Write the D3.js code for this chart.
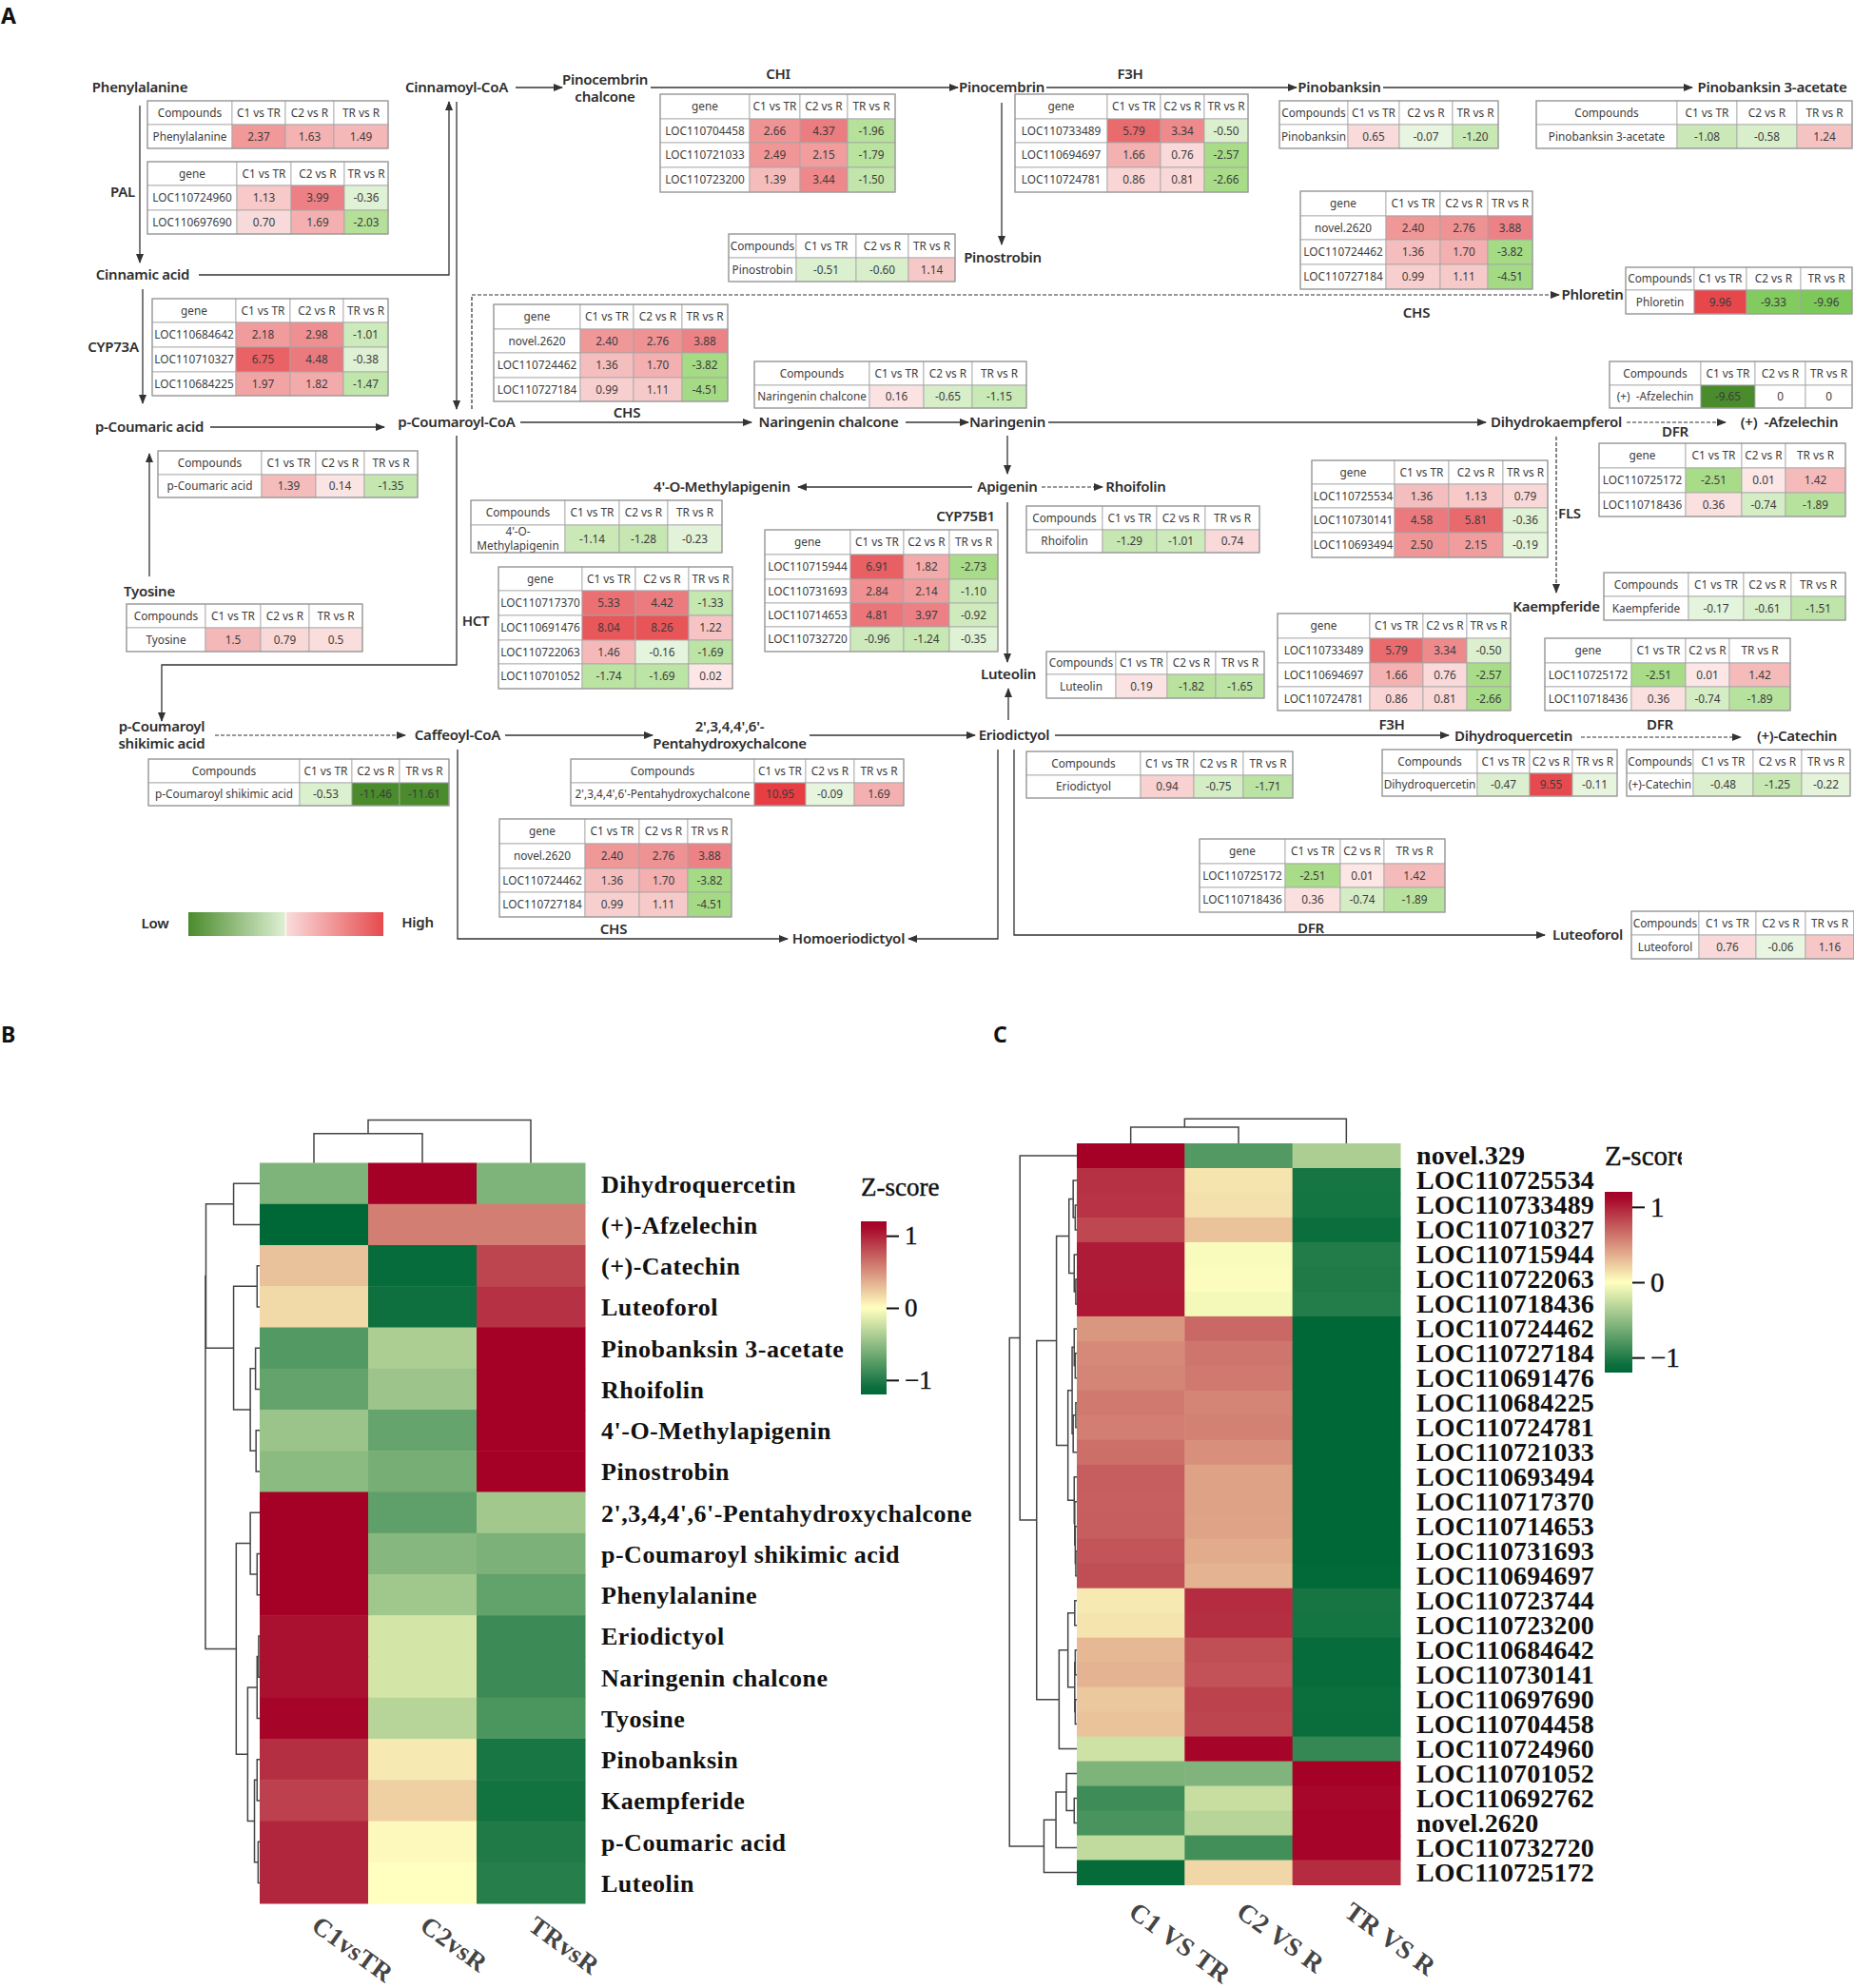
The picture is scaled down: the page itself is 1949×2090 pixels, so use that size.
<!DOCTYPE html>
<html>
<head>
<meta charset="utf-8">
<script src="https://cdn.jsdelivr.net/npm/d3@7"></script>
<style>
  body { margin: 0; background: #fff; }
  svg { display: block; }
</style>
</head>
<body>
<svg id="chart" width="1949" height="2090"></svg>
<script>
// ---- panel A values: first entry of a row is its label, the rest are the three comparisons ----
const compareCols = ["C1 vs TR", "C2 vs R", "TR vs R"];

const phenylalanineRows = [["Phenylalanine", "2.37", "1.63", "1.49"]];
const palRows = [["LOC110724960", "1.13", "3.99", "-0.36"], ["LOC110697690", "0.70", "1.69", "-2.03"]];
const cyp73aRows = [["LOC110684642", "2.18", "2.98", "-1.01"], ["LOC110710327", "6.75", "4.48", "-0.38"], ["LOC110684225", "1.97", "1.82", "-1.47"]];
const chiRows = [["LOC110704458", "2.66", "4.37", "-1.96"], ["LOC110721033", "2.49", "2.15", "-1.79"], ["LOC110723200", "1.39", "3.44", "-1.50"]];
const pinostrobinRows = [["Pinostrobin", "-0.51", "-0.60", "1.14"]];
const chsRows = [["novel.2620", "2.40", "2.76", "3.88"], ["LOC110724462", "1.36", "1.70", "-3.82"], ["LOC110727184", "0.99", "1.11", "-4.51"]];
const naringeninChalconeRows = [["Naringenin chalcone", "0.16", "-0.65", "-1.15"]];
const coumaricRows = [["p-Coumaric acid", "1.39", "0.14", "-1.35"]];
const methylapigeninRows = [["4'-O-\nMethylapigenin", "-1.14", "-1.28", "-0.23"]];
const hctRows = [["LOC110717370", "5.33", "4.42", "-1.33"], ["LOC110691476", "8.04", "8.26", "1.22"], ["LOC110722063", "1.46", "-0.16", "-1.69"], ["LOC110701052", "-1.74", "-1.69", "0.02"]];
const tyosineRows = [["Tyosine", "1.5", "0.79", "0.5"]];
const cyp75b1Rows = [["LOC110715944", "6.91", "1.82", "-2.73"], ["LOC110731693", "2.84", "2.14", "-1.10"], ["LOC110714653", "4.81", "3.97", "-0.92"], ["LOC110732720", "-0.96", "-1.24", "-0.35"]];
const shikimicRows = [["p-Coumaroyl shikimic acid", "-0.53", "-11.46", "-11.61"]];
const pentaRows = [["2',3,4,4',6'-Pentahydroxychalcone", "10.95", "-0.09", "1.69"]];
const f3hRows = [["LOC110733489", "5.79", "3.34", "-0.50"], ["LOC110694697", "1.66", "0.76", "-2.57"], ["LOC110724781", "0.86", "0.81", "-2.66"]];
const pinobanksinRows = [["Pinobanksin", "0.65", "-0.07", "-1.20"]];
const pinobanksinAcetateRows = [["Pinobanksin 3-acetate", "-1.08", "-0.58", "1.24"]];
const phloretinRows = [["Phloretin", "9.96", "-9.33", "-9.96"]];
const afzelechinRows = [["(+)\u00a0\u00a0-Afzelechin", "-9.65", "0", "0"]];
const dfrRows = [["LOC110725172", "-2.51", "0.01", "1.42"], ["LOC110718436", "0.36", "-0.74", "-1.89"]];
const flsRows = [["LOC110725534", "1.36", "1.13", "0.79"], ["LOC110730141", "4.58", "5.81", "-0.36"], ["LOC110693494", "2.50", "2.15", "-0.19"]];
const rhoifolinRows = [["Rhoifolin", "-1.29", "-1.01", "0.74"]];
const kaempferideRows = [["Kaempferide", "-0.17", "-0.61", "-1.51"]];
const luteolinRows = [["Luteolin", "0.19", "-1.82", "-1.65"]];
const eriodictyolRows = [["Eriodictyol", "0.94", "-0.75", "-1.71"]];
const dihydroquercetinRows = [["Dihydroquercetin", "-0.47", "9.55", "-0.11"]];
const catechinRows = [["(+)-Catechin", "-0.48", "-1.25", "-0.22"]];
const luteoforolRows = [["Luteoforol", "0.76", "-0.06", "1.16"]];

// ---- panel B ----
const compoundNames = ["Dihydroquercetin", "(+)-Afzelechin", "(+)-Catechin", "Luteoforol", "Pinobanksin 3-acetate", "Rhoifolin", "4'-O-Methylapigenin", "Pinostrobin", "2',3,4,4',6'-Pentahydroxychalcone", "p-Coumaroyl shikimic acid", "Phenylalanine", "Eriodictyol", "Naringenin chalcone", "Tyosine", "Pinobanksin", "Kaempferide", "p-Coumaric acid", "Luteolin"];
const compoundCols = ["C1vsTR", "C2vsR", "TRvsR"];
const compoundZ = [
  [-0.58, 1.15, -0.58], [-1.15, 0.58, 0.58], [0.28, -1.12, 0.84], [0.17, -1.09, 0.93], [-0.78, -0.37, 1.15], [-0.7, -0.44, 1.15],
  [-0.45, -0.69, 1.15], [-0.52, -0.62, 1.15], [1.15, -0.72, -0.42], [1.15, -0.55, -0.59], [1.15, -0.43, -0.71], [1.08, -0.2, -0.88],
  [1.08, -0.2, -0.88], [1.13, -0.32, -0.81], [0.94, 0.1, -1.04], [0.86, 0.21, -1.07], [0.98, 0.03, -1.01], [0.98, 0, -0.98]
];
// dendrograms are nested [height, left, right], a number is a row or column index
const compoundRowTree = [104, [103, [50, 0, 1], [50, [5, 2, 3], [18, [8, 4, 5], [7, 6, 7]]]],
  [45, [18, 8, [5, 9, 10]], [23, [5, [2, 11, 12], 13], [10, [5, 14, 15], [3, 16, 17]]]]];
const compoundColTree = [60, [41, 0, 1], 2];

// ---- panel C ----
const geneNames = ["novel.329", "LOC110725534", "LOC110733489", "LOC110710327", "LOC110715944", "LOC110722063", "LOC110718436", "LOC110724462", "LOC110727184", "LOC110691476", "LOC110684225", "LOC110724781", "LOC110721033", "LOC110693494", "LOC110717370", "LOC110714653", "LOC110731693", "LOC110694697", "LOC110723744", "LOC110723200", "LOC110684642", "LOC110730141", "LOC110697690", "LOC110704458", "LOC110724960", "LOC110701052", "LOC110692762", "novel.2620", "LOC110732720", "LOC110725172"];
const geneCols = ["C1 VS TR", "C2 VS R", "TR VS R"];
const geneZ = [
  [1.15, -0.78, -0.37], [0.93, 0.12, -1.05], [0.92, 0.14, -1.06], [0.83, 0.27, -1.1], [1.03, -0.03, -1], [1.03, -0.02, -1.01],
  [1.04, -0.05, -0.99], [0.47, 0.68, -1.15], [0.53, 0.62, -1.15], [0.55, 0.6, -1.15], [0.6, 0.55, -1.15], [0.58, 0.57, -1.15],
  [0.65, 0.5, -1.15], [0.73, 0.42, -1.15], [0.72, 0.42, -1.15], [0.73, 0.41, -1.15], [0.77, 0.38, -1.15], [0.8, 0.34, -1.14],
  [0.1, 0.95, -1.05], [0.12, 0.94, -1.06], [0.32, 0.8, -1.12], [0.34, 0.78, -1.12], [0.25, 0.85, -1.1], [0.27, 0.84, -1.11],
  [-0.22, 1.13, -0.91], [-0.58, -0.57, 1.15], [-0.87, -0.25, 1.12], [-0.82, -0.32, 1.13], [-0.28, -0.85, 1.13], [-1.13, 0.18, 0.95]
];
const geneRowTree = [129, [109, 0, [77, [39, [15, [7, 1, [3, 2, 3]], [5, 4, [2, 5, 6]]],
    [17, [9, [5, 7, [3, 8, 9]], [7, [2, 10, 11], 12]], [5, 13, [4, 14, [3, 15, [2, 16, 17]]]]]],
    [34, [17, [4, 18, 19], [4, [3, 20, 21], [3, 22, 23]]], 24]]],
  [63, [40, [20, 25, [5, 26, 27]], 28], 29]];
const geneColTree = [62, [41, 0, 1], 2];

const zTicks = [-1, 0, 1];

// ---- layout of panel A, real pixels ----
const tableLayout = [
  ["Compounds", phenylalanineRows, [155, 244, 300, 351, 408], [106, 131, 156]],
  ["gene", palRows, [155, 249, 306, 362, 408], [170, 195, 221, 246]],
  ["gene", cyp73aRows, [160, 248, 305, 361, 408], [314, 339, 365, 391, 416]],
  ["gene", chiRows, [694, 788, 841, 891, 941], [99, 125, 150, 176, 202]],
  ["Compounds", pinostrobinRows, [766, 837, 900, 955, 1004], [246, 271, 296]],
  ["gene", chsRows, [519, 610, 666, 717, 765], [320, 346, 371, 397, 422]],
  ["Compounds", naringeninChalconeRows, [793, 914, 971, 1022, 1079], [380, 405, 429]],
  ["Compounds", coumaricRows, [166, 275, 332, 383, 439], [474, 499, 523]],
  ["Compounds", methylapigeninRows, [495, 594, 651, 702, 759], [526, 552, 581]],
  ["gene", hctRows, [524, 612, 668, 724, 770], [596, 621, 647, 673, 698, 724]],
  ["Compounds", tyosineRows, [133, 216, 274, 325, 381], [635, 660, 685]],
  ["gene", cyp75b1Rows, [804, 894, 950, 998, 1049], [557, 583, 609, 634, 659, 685]],
  ["Compounds", shikimicRows, [156, 315, 370, 420, 472], [798, 823, 847]],
  ["Compounds", pentaRows, [600, 793, 847, 898, 950], [798, 823, 847]],
  ["gene", chsRows, [525, 615, 672, 723, 769], [861, 887, 913, 938, 964]],
  ["gene", f3hRows, [1067, 1164, 1220, 1266, 1312], [99, 125, 150, 176, 202]],
  ["Compounds", pinobanksinRows, [1345, 1417, 1471, 1527, 1575], [106, 131, 156]],
  ["Compounds", pinobanksinAcetateRows, [1615, 1763, 1826, 1889, 1947], [106, 131, 156]],
  ["gene", chsRows, [1367, 1457, 1514, 1564, 1611], [201, 227, 252, 278, 304]],
  ["Compounds", phloretinRows, [1709, 1781, 1836, 1893, 1947], [281, 305, 330]],
  ["Compounds", afzelechinRows, [1692, 1788, 1845, 1898, 1947], [380, 405, 429]],
  ["gene", dfrRows, [1681, 1772, 1831, 1877, 1940], [466, 492, 518, 543]],
  ["gene", flsRows, [1379, 1466, 1523, 1580, 1627], [484, 509, 534, 560, 586]],
  ["Compounds", rhoifolinRows, [1079, 1159, 1216, 1267, 1324], [532, 557, 581]],
  ["Compounds", kaempferideRows, [1686, 1775, 1833, 1883, 1940], [602, 627, 652]],
  ["gene", f3hRows, [1343, 1440, 1496, 1542, 1588], [645, 671, 697, 722, 747]],
  ["gene", dfrRows, [1624, 1715, 1772, 1818, 1882], [671, 697, 722, 747]],
  ["Compounds", luteolinRows, [1100, 1173, 1227, 1278, 1329], [685, 709, 734]],
  ["Compounds", eriodictyolRows, [1079, 1199, 1255, 1307, 1359], [790, 815, 839]],
  ["Compounds", dihydroquercetinRows, [1453, 1553, 1608, 1653, 1700], [788, 813, 837]],
  ["Compounds", catechinRows, [1710, 1780, 1843, 1894, 1945], [788, 813, 837]],
  ["gene", dfrRows, [1261, 1351, 1409, 1455, 1519], [882, 908, 933, 959]],
  ["Compounds", luteoforolRows, [1715, 1786, 1846, 1898, 1949], [958, 983, 1008]]
];

const nodeLabels = [
  ["Phenylalanine", 147, 92], ["Cinnamic acid", 150, 289], ["p-Coumaric acid", 157, 449], ["Cinnamoyl-CoA", 480, 92],
  ["Pinocembrin\nchalcone", 636, 84], ["p-Coumaroyl-CoA", 480, 444], ["Naringenin chalcone", 871, 444], ["CHS", 659, 434],
  ["CHI", 818, 78], ["Pinocembrin", 1053, 92], ["F3H", 1188, 78], ["Pinobanksin", 1408, 92], ["Pinobanksin 3-acetate", 1863, 92],
  ["Pinostrobin", 1054, 271], ["Phloretin", 1674, 310], ["CHS", 1489, 329], ["Naringenin", 1059, 444], ["Dihydrokaempferol", 1636, 444],
  ["(+)\u00a0\u00a0-Afzelechin", 1881, 444], ["DFR", 1761, 454], ["FLS", 1650, 540], ["PAL", 129, 202], ["CYP73A", 119, 365],
  ["4'-O-Methylapigenin", 759, 512], ["Apigenin", 1059, 512], ["Rhoifolin", 1194, 512], ["CYP75B1", 1015, 543], ["Tyosine", 157, 622],
  ["HCT", 500, 653], ["p-Coumaroyl\nshikimic acid", 170, 764], ["Caffeoyl-CoA", 481, 773], ["2',3,4,4',6'-\nPentahydroxychalcone", 767, 764],
  ["CHS", 645, 977], ["Homoeriodictyol", 892, 987], ["Low", 163, 971], ["High", 439, 970], ["Luteolin", 1060, 709], ["Eriodictyol", 1066, 773],
  ["F3H", 1463, 762], ["Dihydroquercetin", 1591, 774], ["DFR", 1745, 762], ["(+)-Catechin", 1889, 774], ["DFR", 1378, 976],
  ["Luteoforol", 1669, 983], ["Kaempferide", 1636, 638]
];

const solidArrows = [
  [[147, 111], [147, 276]], [[209, 289], [472, 289], [472, 107]], [[542, 92], [591, 92]], [[480, 107], [480, 430]], [[150, 304], [150, 424]],
  [[221, 449], [404, 449]], [[547, 444], [790, 444]], [[684, 92], [1007, 92]], [[1100, 92], [1363, 92]], [[1454, 92], [1779, 92]],
  [[1053, 108], [1053, 257]], [[952, 444], [1018, 444]], [[1102, 444], [1562, 444]], [[1059, 458], [1059, 498]], [[1022, 512], [839, 512]],
  [[1059, 528], [1059, 696]], [[1060, 757], [1060, 724]], [[157, 606], [157, 477]], [[480, 458], [480, 699], [170, 699], [170, 758]],
  [[531, 773], [686, 773]], [[851, 773], [1025, 773]], [[481, 788], [481, 987], [828, 987]], [[1049, 788], [1049, 987], [955, 987]],
  [[1109, 773], [1523, 773]], [[1066, 788], [1066, 983], [1624, 983]]
];
const dashedArrows = [
  [[496, 430], [496, 310], [1639, 310]], [[1710, 444], [1814, 444]], [[1095, 512], [1159, 512]], [[1636, 459], [1636, 623]],
  [[226, 773], [426, 773]], [[1662, 775], [1830, 775]]
];
const panelLetters = [["A", 1, 25], ["B", 1, 1096], ["C", 1044, 1096]];

// ---- colours ----
// fold change tables: green below zero, pink to red above it
const greenScale = d3.scaleLinear().domain([-9.96, -4.5, -2.5, -1, 0]).range(["#7cc95a", "#a5da85", "#a8dc88", "#cdeabb", "#eaf6e3"]).clamp(true);
const redScale = d3.scaleLinear().domain([0, 0.8, 1.4, 2.2, 4, 6, 11]).range(["#fce6e6", "#f9d8d8", "#f5bcbc", "#f19a9b", "#ec8084", "#e9686b", "#e63e42"]).clamp(true);
const darkGreen = "#4a8b2c";

function cellColor(text) {
  const v = +text;
  if (v === 0 && text === "0") return "#fff";
  if (v < -11 || text === "-9.65") return darkGreen;
  return v < 0 ? greenScale(v) : redScale(v);
}

const zColor = d3.scaleLinear().domain([-1.15, 0, 1.15]).range(["#006837", "#ffffbf", "#a50026"]).clamp(true);

const svg = d3.select("#chart");
const LABEL_FONT = "'Noto Sans', sans-serif";
const SERIF = "'Liberation Serif', serif";

// ---- panel A ----
function drawTable(parent, title, rows, xEdges, yEdges) {
  const g = parent.append("g");
  const x = d3.scaleOrdinal().domain(d3.range(xEdges.length)).range(xEdges);
  const y = d3.scaleOrdinal().domain(d3.range(yEdges.length)).range(yEdges);
  const grid = [[title, ...compareCols], ...rows];

  grid.forEach((row, r) => {
    row.forEach((text, c) => {
      const isValue = r > 0 && c > 0;
      g.append("rect")
        .attr("x", x(c)).attr("y", y(r))
        .attr("width", x(c + 1) - x(c)).attr("height", y(r + 1) - y(r))
        .style("fill", isValue ? cellColor(text) : "#fff")
        .style("stroke", "#a6a6a6")
        .style("stroke-width", "0.8px");

      const lines = text.split("\n");
      const t = g.append("text")
        .attr("text-anchor", "middle")
        .style("font-family", LABEL_FONT)
        .style("font-size", "11.8px")
        .style("fill", "#3c3c3c");
      lines.forEach((line, i) => {
        t.append("tspan")
          .attr("x", (x(c) + x(c + 1)) / 2)
          .attr("y", (y(r) + y(r + 1)) / 2 + 4 + (i - (lines.length - 1) / 2) * 14.5)
          .text(line);
      });
    });
  });

  // outer edge is a little heavier
  g.append("rect")
    .attr("x", xEdges[0]).attr("y", yEdges[0])
    .attr("width", xEdges[xEdges.length - 1] - xEdges[0])
    .attr("height", yEdges[yEdges.length - 1] - yEdges[0])
    .style("fill", "none")
    .style("stroke", "#9a9a9a")
    .style("stroke-width", "1.2px");
}

function drawPathway(parent) {
  const defs = parent.append("defs");
  defs.append("marker")
    .attr("id", "head")
    .attr("viewBox", "0 0 10 8")
    .attr("refX", 9).attr("refY", 4)
    .attr("markerUnits", "userSpaceOnUse")
    .attr("markerWidth", 10).attr("markerHeight", 8)
    .attr("orient", "auto")
    .append("path")
    .attr("d", "M0,0L10,4L0,8Z")
    .style("fill", "#333");

  const line = d3.line();
  parent.selectAll("path.solid").data(solidArrows).enter().append("path")
    .attr("class", "solid")
    .attr("d", line)
    .attr("marker-end", "url(#head)")
    .style("fill", "none").style("stroke", "#333").style("stroke-width", "1.3px");
  parent.selectAll("path.dashed").data(dashedArrows).enter().append("path")
    .attr("class", "dashed")
    .attr("d", line)
    .attr("marker-end", "url(#head)")
    .style("fill", "none").style("stroke", "#333").style("stroke-width", "1.2px").style("stroke-dasharray", "4,2");

  nodeLabels.forEach(d => {
    const lines = d[0].split("\n");
    const t = parent.append("text")
      .attr("text-anchor", "middle")
      .style("font-family", LABEL_FONT)
      .style("font-size", "15px")
      .style("font-weight", 600)
      .style("letter-spacing", "-0.25px")
      .style("fill", "#2e2e2e");
    lines.forEach((l, i) => {
      t.append("tspan").attr("x", d[1]).attr("y", d[2] + 5 + i * 18).text(l);
    });
  });

  tableLayout.forEach(d => drawTable(parent, d[0], d[1], d[2], d[3]));

  // low / high legend
  const grad = [["lowGrad", darkGreen, "#dff0d4"], ["highGrad", "#fadcdc", "#e64b4e"]];
  const legendX = d3.scaleLinear().domain([0, 1, 2]).range([198, 300, 403]);
  grad.forEach((d, i) => {
    const lg = defs.append("linearGradient").attr("id", d[0]);
    lg.append("stop").attr("offset", "0%").attr("stop-color", d[1]);
    lg.append("stop").attr("offset", "100%").attr("stop-color", d[2]);
    parent.append("rect")
      .attr("x", legendX(i) + i).attr("y", 959)
      .attr("width", legendX(i + 1) - legendX(i) - i).attr("height", 25)
      .style("fill", `url(#${d[0]})`);
  });
}

drawPathway(svg.append("g"));

panelLetters.forEach(d => {
  svg.append("text")
    .attr("x", d[1]).attr("y", d[2])
    .style("font-family", LABEL_FONT)
    .style("font-size", "23px")
    .style("font-weight", 700)
    .style("fill", "#111")
    .text(d[0]);
});

// ---- panels B and C ----
function drawTree(g, tree, leafPos, heightPos) {
  // returns the leaf-axis position of a node, drawing its bracket on the way
  function walk(node) {
    if (typeof node === "number") return { pos: leafPos(node), h: 0 };
    const a = walk(node[1]);
    const b = walk(node[2]);
    const h = node[0];
    g.append("path")
      .attr("d", heightPos(a.pos, a.h, b.pos, b.h, h))
      .style("fill", "none")
      .style("stroke", "#444")
      .style("stroke-width", "1.5px");
    return { pos: (a.pos + b.pos) / 2, h: h };
  }
  walk(tree);
}

function drawHeatmap(opts) {
  const g = svg.append("g");
  const x = d3.scaleBand().domain(d3.range(opts.cols.length)).range(opts.xRange);
  const y = d3.scaleBand().domain(d3.range(opts.rows.length)).range(opts.yRange);

  opts.values.forEach((row, r) => {
    row.forEach((v, c) => {
      g.append("rect")
        .attr("x", x(c)).attr("y", y(r))
        .attr("width", x.bandwidth() + 0.5).attr("height", y.bandwidth() + 0.5)
        .style("fill", zColor(v));
    });
  });

  g.selectAll("text.row").data(opts.rows).enter().append("text")
    .attr("class", "row")
    .attr("x", opts.xRange[1] + opts.labelGap)
    .attr("y", (d, i) => y(i) + y.bandwidth() / 2 + opts.labelDy)
    .style("font-family", SERIF)
    .style("font-weight", 700)
    .style("font-size", opts.labelSize + "px")
    .style("letter-spacing", opts.labelSpacing + "px")
    .style("fill", "#111")
    .text(d => d);

  g.selectAll("text.col").data(opts.cols).enter().append("text")
    .attr("class", "col")
    .attr("transform", (d, i) => `translate(${x(i) + opts.colDx},${opts.yRange[1] + opts.colDy}) rotate(36)`)
    .style("font-family", SERIF)
    .style("font-weight", 700)
    .style("font-size", opts.colSize + "px")
    .style("letter-spacing", "0.5px")
    .style("fill", "#444")
    .text(d => d);

  // row tree grows to the left of the grid, column tree grows upward
  const rowH = d3.scaleLinear().domain([0, 104]).range([opts.xRange[0], opts.xRange[0] - 104 / 1.823]);
  drawTree(g, opts.rowTree, i => y(i) + y.bandwidth() / 2,
    (p1, h1, p2, h2, h) => `M${rowH(h1)},${p1}H${rowH(h)}V${p2}H${rowH(h2)}`);
  const colH = d3.scaleLinear().domain([0, 60]).range([opts.yRange[0], opts.yRange[0] - opts.colTreeHeight]);
  drawTree(g, opts.colTree, i => x(i) + x.bandwidth() / 2,
    (p1, h1, p2, h2, h) => `M${p1},${colH(h1)}V${colH(h)}H${p2}V${colH(h2)}`);

  // z-score colour bar
  const bar = opts.bar;
  const barY = d3.scaleLinear().domain([-1.2, 1.2]).range([bar.y1, bar.y0]);
  const gradId = opts.id + "Grad";
  const lg = svg.append("defs").append("linearGradient")
    .attr("id", gradId).attr("x1", 0).attr("y1", 1).attr("x2", 0).attr("y2", 0);
  d3.range(-1.2, 1.21, 0.1).forEach(v => {
    lg.append("stop").attr("offset", (v + 1.2) / 2.4).attr("stop-color", zColor(v));
  });
  g.append("rect")
    .attr("x", bar.x).attr("y", bar.y0)
    .attr("width", bar.w).attr("height", bar.y1 - bar.y0)
    .style("fill", `url(#${gradId})`);

  const axis = g.append("g")
    .attr("transform", `translate(${bar.x + bar.w},0)`)
    .call(d3.axisRight(barY).tickValues(zTicks).tickSize(13).tickPadding(6).tickFormat(d => d < 0 ? "\u2212" + Math.abs(d) : d));
  axis.select(".domain").remove();
  axis.selectAll("line").style("stroke", "#111").style("stroke-width", "2px");
  axis.selectAll("text")
    .style("font-family", SERIF)
    .style("font-size", bar.fontSize + "px")
    .style("stroke", "#111")
    .style("stroke-width", "0.4px")
    .style("fill", "#111");

  const clipId = opts.id + "Clip";
  svg.append("defs").append("clipPath").attr("id", clipId).append("rect")
    .attr("x", bar.x - 5).attr("y", bar.titleY - 40)
    .attr("width", bar.titleClip).attr("height", 60);
  g.append("text")
    .attr("x", bar.x).attr("y", bar.titleY)
    .attr("clip-path", `url(#${clipId})`)
    .style("font-family", SERIF)
    .style("font-size", bar.fontSize + "px")
    .style("stroke", "#111")
    .style("stroke-width", "0.4px")
    .style("fill", "#111")
    .text("Z-score");
}

drawHeatmap({
  id: "compound", rows: compoundNames, cols: compoundCols, values: compoundZ,
  rowTree: compoundRowTree, colTree: compoundColTree,
  xRange: [273, 615], yRange: [1222.5, 2001],
  labelGap: 17, labelDy: 9.5, labelSize: 26, labelSpacing: 0.5,
  colDx: 53, colDy: 27, colSize: 27, colTreeHeight: 45,
  bar: { x: 905, w: 27, y0: 1284, y1: 1466, titleY: 1257, titleClip: 120, fontSize: 27 }
});

drawHeatmap({
  id: "gene", rows: geneNames, cols: geneCols, values: geneZ,
  rowTree: geneRowTree, colTree: geneColTree,
  xRange: [1132, 1472], yRange: [1202, 1981.5],
  labelGap: 17, labelDy: 9, labelSize: 28, labelSpacing: 0.15,
  colDx: 53, colDy: 32, colSize: 27.5, colTreeHeight: 25,
  bar: { x: 1687, w: 29, y0: 1253, y1: 1443, titleY: 1225, titleClip: 86, fontSize: 29 }
});
</script>
</body>
</html>
